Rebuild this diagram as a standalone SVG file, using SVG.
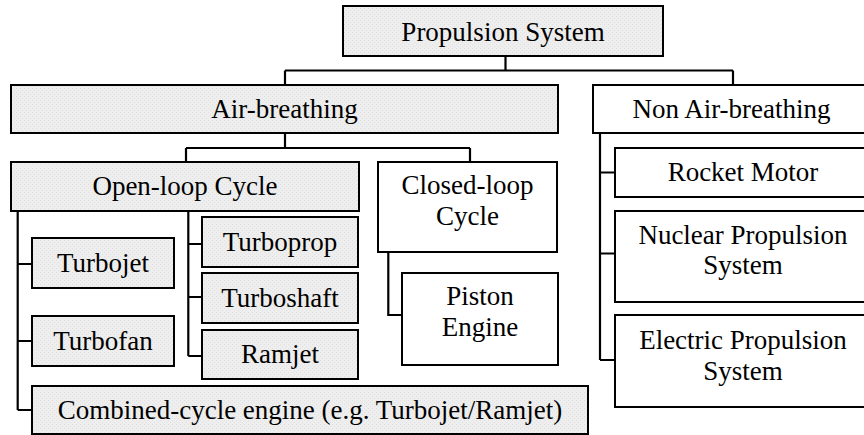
<svg xmlns="http://www.w3.org/2000/svg" width="864" height="435" viewBox="0 0 864 435">
  <defs>
    <!-- fine stipple used for the shaded (air-breathing side) boxes -->
    <pattern id="stipple" width="4" height="4" patternUnits="userSpaceOnUse">
      <rect width="4" height="4" fill="#eeeeee"/>
      <rect x="0" y="0" width="1" height="1" fill="#e0e0e0"/>
      <rect x="2" y="2" width="1" height="1" fill="#e0e0e0"/>
    </pattern>
  </defs>
  <style>
    .box { stroke: #000; stroke-width: 2; }
    .shaded { fill: url(#stipple); }
    .plain { fill: #fff; }
    text { font-family: "Liberation Serif", "Times New Roman", serif; font-size: 27px; fill: #000; text-anchor: middle; }
    .wire { fill: none; stroke: #000; stroke-width: 2.2; }
  </style>
  <rect width="864" height="435" fill="#fff"/>

  <!-- connectors -->
  <g id="connectors" class="wire">
    <path d="M505.5,56 V70.5 M285,70.5 H733 M285,70.5 V85 M733,70.5 V85"/>
    <path d="M285,133 V148 M186,148 H470 M186,148 V162 M470,148 V162"/>
    <path d="M17.7,211 V410 M17.7,264 H32 M17.7,341 H32 M17.7,410 H32"/>
    <path d="M188.3,211 V356 M188.3,244 H202 M188.3,297 H202 M188.3,356 H202"/>
    <path d="M388.3,252 V315 H402"/>
    <path d="M600,133 V360 M600,172.5 H615 M600,253.5 H615 M600,360 H615"/>
  </g>

  <g id="propulsion-system">
    <rect class="box shaded" x="343" y="6" width="320" height="50"/>
    <text x="503" y="40.5">Propulsion System</text>
  </g>
  <g id="air-breathing">
    <rect class="box shaded" x="11" y="85" width="547" height="48"/>
    <text x="284.5" y="118">Air-breathing</text>
  </g>
  <g id="non-air-breathing">
    <rect class="box plain" x="593" y="85" width="278" height="48"/>
    <text x="731.5" y="118">Non Air-breathing</text>
  </g>
  <g id="open-loop">
    <rect class="box shaded" x="11" y="162" width="348" height="49"/>
    <text x="185" y="194.5">Open-loop Cycle</text>
  </g>
  <g id="closed-loop">
    <rect class="box plain" x="378" y="162" width="179" height="90"/>
    <text x="467.5" y="193.5">Closed-loop</text>
    <text x="467.5" y="225">Cycle</text>
  </g>
  <g id="turbojet">
    <rect class="box shaded" x="32" y="238" width="142" height="50"/>
    <text x="103" y="271.5">Turbojet</text>
  </g>
  <g id="turbofan">
    <rect class="box shaded" x="32" y="316" width="142" height="50"/>
    <text x="103" y="349.5">Turbofan</text>
  </g>
  <g id="turboprop">
    <rect class="box shaded" x="202" y="217" width="156" height="50"/>
    <text x="280" y="250.5">Turboprop</text>
  </g>
  <g id="turboshaft">
    <rect class="box shaded" x="202" y="273" width="156" height="50"/>
    <text x="280" y="306.5">Turboshaft</text>
  </g>
  <g id="ramjet">
    <rect class="box shaded" x="202" y="330" width="156" height="49"/>
    <text x="280" y="363">Ramjet</text>
  </g>
  <g id="piston-engine">
    <rect class="box plain" x="402" y="273" width="156" height="92"/>
    <text x="480" y="305">Piston</text>
    <text x="480" y="336">Engine</text>
  </g>
  <g id="combined-cycle">
    <rect class="box shaded" x="32" y="386" width="556" height="48"/>
    <text x="310" y="419">Combined-cycle engine (e.g. Turbojet/Ramjet)</text>
  </g>
  <g id="rocket-motor">
    <rect class="box plain" x="615" y="148" width="257" height="49"/>
    <text x="743" y="181">Rocket Motor</text>
  </g>
  <g id="nuclear">
    <rect class="box plain" x="615" y="211" width="257" height="91"/>
    <text x="743" y="243.5">Nuclear Propulsion</text>
    <text x="743" y="274">System</text>
  </g>
  <g id="electric">
    <rect class="box plain" x="615" y="315" width="257" height="92"/>
    <text x="743" y="348.5">Electric Propulsion</text>
    <text x="743" y="380">System</text>
  </g>
</svg>
